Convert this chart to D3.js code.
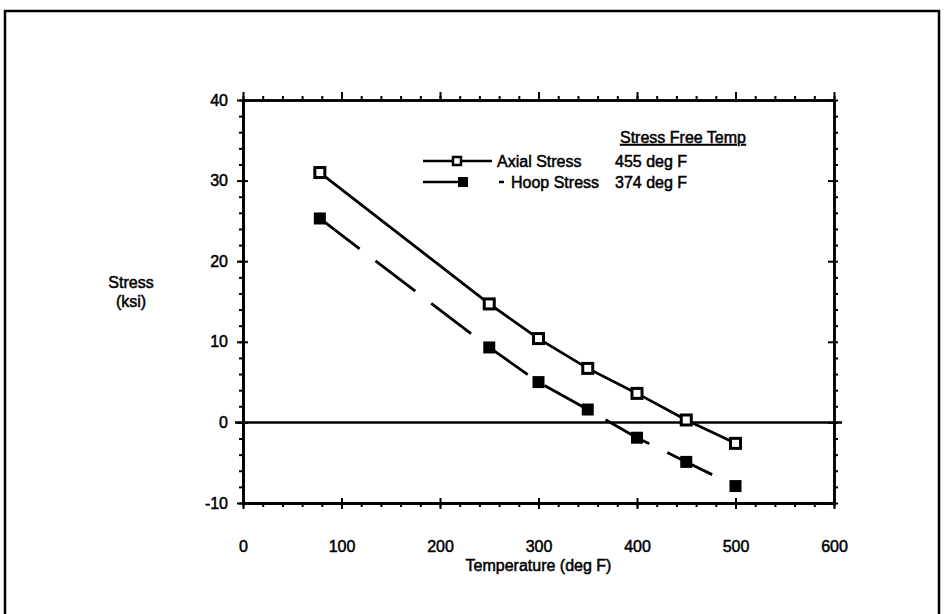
<!DOCTYPE html>
<html>
<head>
<meta charset="utf-8">
<script src="https://cdn.jsdelivr.net/npm/d3@7"></script>
<style>
  body { margin: 0; background: #fff; }
  text { font-family: "Liberation Sans", Arial, sans-serif; fill: #000; stroke: #000; stroke-width: 0.5px; }
</style>
</head>
<body>
<script>
// data
const temps = [78, 250, 300, 350, 400, 450, 500];
const axialStress = [31.0, 14.7, 10.4, 6.7, 3.6, 0.3, -2.6];
const hoopStress = [25.3, 9.3, 5.0, 1.6, -1.9, -4.9, -7.9];
const xTicks = [0, 100, 200, 300, 400, 500, 600];
const yTicks = [-10, 0, 10, 20, 30, 40];
const legendNames = ["Axial Stress", "Hoop Stress"];
const freeTemps = ["455 deg F", "374 deg F"];

const w = 944;
const h = 614;

const svg = d3.select("body")
    .append("svg")
    .attr("width", w)
    .attr("height", h);

// outer frame
svg.append("rect")
    .attr("x", 5)
    .attr("y", 11)
    .attr("width", 934)
    .attr("height", 620)
    .attr("fill", "none")
    .attr("stroke", "#000")
    .attr("stroke-width", 2.5);

// scales
const xScale = d3.scaleLinear().domain([0, 600]).range([243, 834]);
const yScale = d3.scaleLinear().domain([-10, 40]).range([503, 100]);

const minorX = d3.range(0, 601, 20);
const minorY = d3.range(-10, 41, 2);

function styleAxis(g) {
    g.selectAll("path").attr("stroke", "#000").attr("stroke-width", 2.5);
    g.selectAll("line").attr("stroke", "#000").attr("stroke-width", 2);
    g.selectAll("text").attr("font-size", 16).attr("font-family", "Liberation Sans, Arial, sans-serif");
}

// left axis with labels
svg.append("g")
    .attr("transform", `translate(${xScale(0)},0)`)
    .call(d3.axisLeft(yScale).tickValues(yTicks).tickSize(6).tickPadding(9).tickSizeOuter(0)
        .tickFormat(d => String(d)))
    .call(styleAxis);
svg.append("g")
    .attr("transform", `translate(${xScale(0)},0)`)
    .call(d3.axisLeft(yScale).tickValues(minorY).tickSize(4).tickFormat("").tickSizeOuter(0))
    .call(styleAxis);
svg.append("g")
    .attr("transform", `translate(${xScale(0)},0)`)
    .call(d3.axisRight(yScale).tickValues(yTicks).tickSize(5).tickFormat("").tickSizeOuter(0))
    .call(styleAxis);

// right axis
svg.append("g")
    .attr("transform", `translate(${xScale(600)},0)`)
    .call(d3.axisRight(yScale).tickValues(minorY).tickSize(4).tickFormat("").tickSizeOuter(0))
    .call(styleAxis);
svg.append("g")
    .attr("transform", `translate(${xScale(600)},0)`)
    .call(d3.axisLeft(yScale).tickValues(yTicks).tickSize(6).tickFormat("").tickSizeOuter(0))
    .call(styleAxis);

// bottom axis with labels
svg.append("g")
    .attr("transform", `translate(0,${yScale(-10)})`)
    .call(d3.axisBottom(xScale).tickValues(xTicks).tickSize(6).tickPadding(32).tickSizeOuter(0)
        .tickFormat(d => String(d)))
    .call(styleAxis);
svg.append("g")
    .attr("transform", `translate(0,${yScale(-10)})`)
    .call(d3.axisBottom(xScale).tickValues(minorX).tickSize(4).tickFormat("").tickSizeOuter(0))
    .call(styleAxis);
svg.append("g")
    .attr("transform", `translate(0,${yScale(-10)})`)
    .call(d3.axisTop(xScale).tickValues(xTicks).tickSize(5).tickFormat("").tickSizeOuter(0))
    .call(styleAxis);

// top axis
svg.append("g")
    .attr("transform", `translate(0,${yScale(40)})`)
    .call(d3.axisTop(xScale).tickValues(minorX).tickSize(4).tickFormat("").tickSizeOuter(0))
    .call(styleAxis);
svg.append("g")
    .attr("transform", `translate(0,${yScale(40)})`)
    .call(d3.axisTop(xScale).tickValues(xTicks).tickSize(8).tickFormat("").tickSizeOuter(0))
    .call(styleAxis);

// zero line
svg.append("line")
    .attr("x1", xScale(0) - 8)
    .attr("x2", xScale(600) + 8)
    .attr("y1", yScale(0))
    .attr("y2", yScale(0))
    .attr("stroke", "#000")
    .attr("stroke-width", 2.5);

// axis titles
svg.append("text")
    .attr("x", xScale(300))
    .attr("y", 571)
    .attr("text-anchor", "middle")
    .attr("font-size", 16)
    .text("Temperature (deg F)");
svg.append("text")
    .attr("x", 131)
    .attr("y", 288)
    .attr("text-anchor", "middle")
    .attr("font-size", 16)
    .text("Stress");
svg.append("text")
    .attr("x", 131)
    .attr("y", 307)
    .attr("text-anchor", "middle")
    .attr("font-size", 16)
    .text("(ksi)");

// lines
const line = d3.line()
    .x(d => xScale(d[0]))
    .y(d => yScale(d[1]));

const axialData = temps.map((t, i) => [t, axialStress[i]]);
const hoopData = temps.map((t, i) => [t, hoopStress[i]]);

svg.append("path")
    .datum(axialData)
    .attr("d", line)
    .attr("fill", "none")
    .attr("stroke", "#000")
    .attr("stroke-width", 2.8);

svg.append("path")
    .datum(hoopData)
    .attr("d", line)
    .attr("fill", "none")
    .attr("stroke", "#000")
    .attr("stroke-width", 2.8)
    .attr("stroke-dasharray", "50,20");

// markers
const ms = 10;
svg.selectAll(".axial")
    .data(axialData)
    .enter()
    .append("rect")
    .attr("class", "axial")
    .attr("x", d => xScale(d[0]) - ms / 2)
    .attr("y", d => yScale(d[1]) - ms / 2)
    .attr("width", ms)
    .attr("height", ms)
    .attr("fill", "#fff")
    .attr("stroke", "#000")
    .attr("stroke-width", 3);

svg.selectAll(".hoop")
    .data(hoopData)
    .enter()
    .append("rect")
    .attr("class", "hoop")
    .attr("x", d => xScale(d[0]) - 6)
    .attr("y", d => yScale(d[1]) - 6)
    .attr("width", 12)
    .attr("height", 12)
    .attr("fill", "#000");

// legend
const lg = svg.append("g");
lg.append("line")
    .attr("x1", 423).attr("x2", 492)
    .attr("y1", 161).attr("y2", 161)
    .attr("stroke", "#000").attr("stroke-width", 2.5);
lg.append("rect")
    .attr("x", 457 - 4).attr("y", 161 - 4)
    .attr("width", 8).attr("height", 8)
    .attr("fill", "#fff").attr("stroke", "#000").attr("stroke-width", 2.5);
lg.append("line")
    .attr("x1", 423).attr("x2", 460)
    .attr("y1", 182).attr("y2", 182)
    .attr("stroke", "#000").attr("stroke-width", 2.5);
lg.append("rect")
    .attr("x", 458).attr("y", 177)
    .attr("width", 10).attr("height", 10)
    .attr("fill", "#000");
lg.append("line")
    .attr("x1", 499).attr("x2", 504)
    .attr("y1", 182).attr("y2", 182)
    .attr("stroke", "#000").attr("stroke-width", 2.5);

lg.selectAll(".lname")
    .data(legendNames)
    .enter()
    .append("text")
    .attr("class", "lname")
    .attr("x", (d, i) => i == 0 ? 497 : 511)
    .attr("y", (d, i) => 167 + i * 21)
    .attr("font-size", 16)
    .text(d => d);

lg.selectAll(".ftemp")
    .data(freeTemps)
    .enter()
    .append("text")
    .attr("class", "ftemp")
    .attr("x", 615)
    .attr("y", (d, i) => 167 + i * 21)
    .attr("font-size", 16)
    .text(d => d);

lg.append("text")
    .attr("x", 620)
    .attr("y", 143)
    .attr("font-size", 16)
    .attr("text-decoration", "underline")
    .text("Stress Free Temp");
</script>
</body>
</html>
